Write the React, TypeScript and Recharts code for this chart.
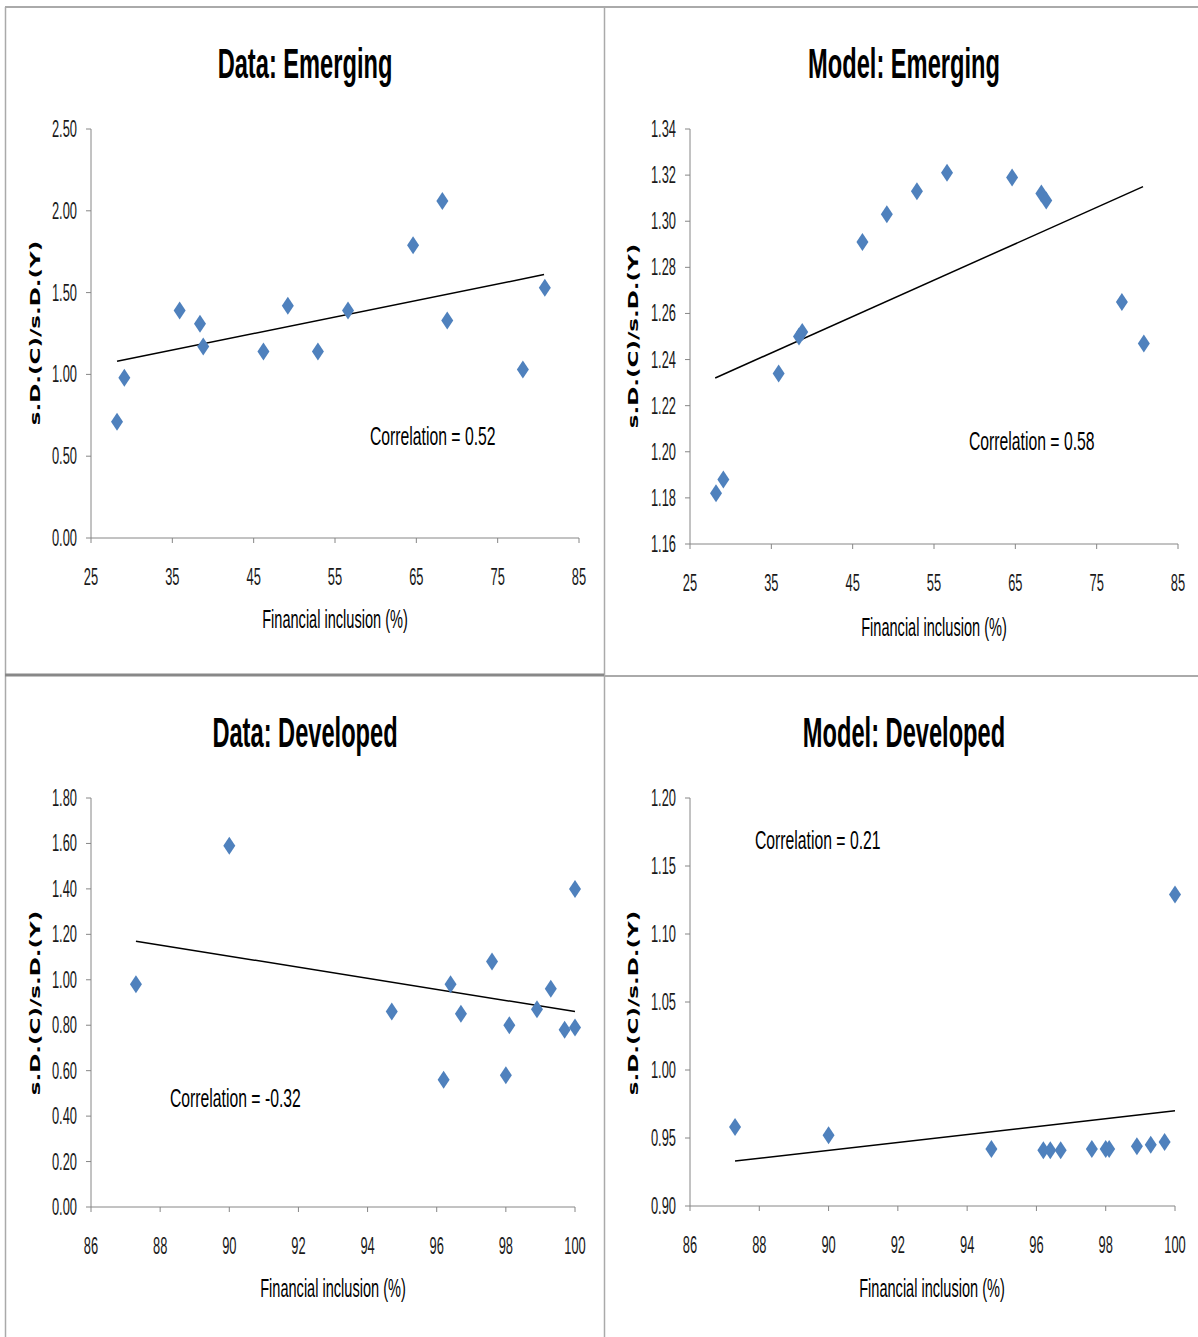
import React from "react";
import { ScatterChart, Scatter, XAxis, YAxis, ReferenceLine } from "recharts";

// x: financial inclusion (%), y: s.D.(C)/s.D.(Y)
const emergingInclusion = [28.2, 29.1, 35.9, 38.4, 38.8, 46.2, 49.2, 52.9, 56.6, 64.6, 68.2, 68.8, 78.1, 80.8];
const dataEmergingRatio = [0.71, 0.98, 1.39, 1.31, 1.17, 1.14, 1.42, 1.14, 1.39, 1.79, 2.06, 1.33, 1.03, 1.53];
const modelEmergingRatio = [1.182, 1.188, 1.234, 1.25, 1.252, 1.291, 1.303, 1.313, 1.321, 1.319, 1.312, 1.309, 1.265, 1.247];

const developedInclusion = [87.3, 90.0, 94.7, 96.2, 96.4, 96.7, 97.6, 98.0, 98.1, 98.9, 99.3, 99.7, 100.0, 100.0];
const dataDevelopedRatio = [0.98, 1.59, 0.86, 0.56, 0.98, 0.85, 1.08, 0.58, 0.8, 0.87, 0.96, 0.78, 0.79, 1.4];
const modelDevelopedInclusion = [87.3, 90.0, 94.7, 96.2, 96.4, 96.7, 97.6, 98.0, 98.1, 98.9, 99.3, 99.7, 100.0];
const modelDevelopedRatio = [0.958, 0.952, 0.942, 0.941, 0.941, 0.941, 0.942, 0.942, 0.942, 0.944, 0.945, 0.947, 1.129];

// fitted line end points [x, y]
const dataEmergingTrend = [[28.2, 1.08], [80.7, 1.61]];
const modelEmergingTrend = [[28.1, 1.232], [80.7, 1.315]];
const dataDevelopedTrend = [[87.3, 1.17], [100, 0.86]];
const modelDevelopedTrend = [[87.3, 0.933], [100, 0.97]];

const emergingTicksX = [25, 35, 45, 55, 65, 75, 85];
const developedTicksX = [86, 88, 90, 92, 94, 96, 98, 100];
const dataEmergingTicksY = [0, 0.5, 1, 1.5, 2, 2.5];
const modelEmergingTicksY = [1.16, 1.18, 1.2, 1.22, 1.24, 1.26, 1.28, 1.3, 1.32, 1.34];
const dataDevelopedTicksY = [0, 0.2, 0.4, 0.6, 0.8, 1, 1.2, 1.4, 1.6, 1.8];
const modelDevelopedTicksY = [0.9, 0.95, 1, 1.05, 1.1, 1.15, 1.2];

const FONT = "'Liberation Sans Narrow', 'Liberation Sans', Arial, sans-serif";
const AXIS = "#868686";
const BLUE = "#4F81BD";

const zip = (xs: number[], ys: number[]) => xs.map((x, i) => ({ x, y: ys[i] }));

function Diamond(props: any) {
  const { cx, cy } = props;
  if (cx == null || cy == null) return null;
  return <polygon points={`${cx},${cy - 9} ${cx + 6},${cy} ${cx},${cy + 9} ${cx - 6},${cy}`} fill={BLUE} />;
}

function YTick(props: any) {
  const { x, y, payload } = props;
  return (
    <text transform={`translate(${x},${y}) scale(0.56,1)`} textAnchor="end" dy={8} fontFamily={FONT} fontSize={23} fill="#1a1a1a">
      {Number(payload.value).toFixed(2)}
    </text>
  );
}

function XTick(props: any) {
  const { x, y, payload } = props;
  return (
    <text transform={`translate(${x},${y}) scale(0.56,1)`} textAnchor="middle" dy={40} fontFamily={FONT} fontSize={23} fill="#1a1a1a">
      {payload.value}
    </text>
  );
}

type PanelProps = {
  box: { x: number; y: number; w: number; h: number };
  plot: { l: number; t: number; r: number; b: number };
  xs: number[];
  ys: number[];
  xTicks: number[];
  yTicks: number[];
  trend: number[][];
};

function Panel({ box, plot, xs, ys, xTicks, yTicks, trend }: PanelProps) {
  const yW = 60;
  const xH = 40;
  const margin = {
    left: plot.l - box.x - yW,
    top: plot.t - box.y,
    right: box.x + box.w - plot.r,
    bottom: box.y + box.h - plot.b - xH,
  };
  return (
    <div style={{ position: "absolute", left: box.x, top: box.y }}>
      <ScatterChart width={box.w} height={box.h} margin={margin}>
        <XAxis
          type="number"
          dataKey="x"
          domain={[xTicks[0], xTicks[xTicks.length - 1]]}
          ticks={xTicks}
          interval={0}
          height={xH}
          tickSize={5}
          tickMargin={2}
          stroke={AXIS}
          tick={<XTick />}
        />
        <YAxis
          type="number"
          dataKey="y"
          domain={[yTicks[0], yTicks[yTicks.length - 1]]}
          ticks={yTicks}
          interval={0}
          width={yW}
          tickSize={5}
          tickMargin={9}
          stroke={AXIS}
          tick={<YTick />}
        />
        <ReferenceLine
          segment={[{ x: trend[0][0], y: trend[0][1] }, { x: trend[1][0], y: trend[1][1] }]}
          stroke="#000"
          strokeWidth={1.5}
        />
        <Scatter data={zip(xs, ys)} shape={<Diamond />} isAnimationActive={false} />
      </ScatterChart>
    </div>
  );
}

function SText({ x, y, text, size, sx, bold, anchor }: any) {
  return (
    <text
      transform={`translate(${x},${y}) scale(${sx},1)`}
      textAnchor={anchor || "middle"}
      fontFamily={FONT}
      fontSize={size}
      fontWeight={bold ? "bold" : "normal"}
      fill="#000"
    >
      {text}
    </text>
  );
}

function YLabel({ x, y }: { x: number; y: number }) {
  return (
    <text
      transform={`translate(${x},${y}) scale(0.65,1) rotate(-90)`}
      textAnchor="middle"
      dominantBaseline="central"
      fontFamily="'DejaVu Sans', sans-serif"
      fontWeight="bold"
      fontSize={23}
      fill="#000"
    >
      s.D.(C)/s.D.(Y)
    </text>
  );
}

export default function App() {
  return (
    <div style={{ position: "absolute", left: 0, top: 0, width: 1198, height: 1337, background: "#fff", overflow: "hidden" }}>
      <Panel
        box={{ x: 6, y: 8, w: 598, h: 666 }}
        plot={{ l: 91, t: 129, r: 579, b: 538 }}
        xs={emergingInclusion}
        ys={dataEmergingRatio}
        xTicks={emergingTicksX}
        yTicks={dataEmergingTicksY}
        trend={dataEmergingTrend}
      />
      <Panel
        box={{ x: 605, y: 8, w: 593, h: 666 }}
        plot={{ l: 690, t: 129, r: 1178, b: 544 }}
        xs={emergingInclusion}
        ys={modelEmergingRatio}
        xTicks={emergingTicksX}
        yTicks={modelEmergingTicksY}
        trend={modelEmergingTrend}
      />
      <Panel
        box={{ x: 6, y: 677, w: 598, h: 660 }}
        plot={{ l: 91, t: 798, r: 575, b: 1207 }}
        xs={developedInclusion}
        ys={dataDevelopedRatio}
        xTicks={developedTicksX}
        yTicks={dataDevelopedTicksY}
        trend={dataDevelopedTrend}
      />
      <Panel
        box={{ x: 605, y: 677, w: 593, h: 660 }}
        plot={{ l: 690, t: 798, r: 1175, b: 1206 }}
        xs={modelDevelopedInclusion}
        ys={modelDevelopedRatio}
        xTicks={developedTicksX}
        yTicks={modelDevelopedTicksY}
        trend={modelDevelopedTrend}
      />

      <svg width={1198} height={1337} style={{ position: "absolute", left: 0, top: 0, pointerEvents: "none" }}>
        {/* frame */}
        <line x1={5} y1={7} x2={1198} y2={7} stroke="#aaa" strokeWidth={2} />
        <line x1={5.5} y1={7} x2={5.5} y2={1337} stroke="#aaa" strokeWidth={1.5} />
        <line x1={604.5} y1={7} x2={604.5} y2={1337} stroke="#aaa" strokeWidth={1.5} />
        <line x1={5} y1={675} x2={604} y2={675} stroke="#888" strokeWidth={3} />
        <line x1={604} y1={676} x2={1198} y2={676} stroke="#aaa" strokeWidth={2} />

        {/* titles */}
        <SText x={305} y={78} text="Data: Emerging" size={43} sx={0.55} bold />
        <SText x={904} y={78} text="Model: Emerging" size={43} sx={0.55} bold />
        <SText x={305} y={747} text="Data: Developed" size={43} sx={0.55} bold />
        <SText x={904} y={747} text="Model: Developed" size={43} sx={0.55} bold />

        {/* x axis titles */}
        <SText x={335} y={628} text="Financial inclusion (%)" size={26} sx={0.56} />
        <SText x={934} y={636} text="Financial inclusion (%)" size={26} sx={0.56} />
        <SText x={333} y={1297} text="Financial inclusion (%)" size={26} sx={0.56} />
        <SText x={932} y={1297} text="Financial inclusion (%)" size={26} sx={0.56} />

        {/* y axis titles */}
        <YLabel x={35} y={333} />
        <YLabel x={633} y={336} />
        <YLabel x={35} y={1003} />
        <YLabel x={633} y={1003} />

        {/* correlations */}
        <SText x={370} y={445} text="Correlation = 0.52" size={25} sx={0.63} anchor="start" />
        <SText x={969} y={450} text="Correlation = 0.58" size={25} sx={0.63} anchor="start" />
        <SText x={170} y={1107} text="Correlation = -0.32" size={25} sx={0.63} anchor="start" />
        <SText x={755} y={849} text="Correlation = 0.21" size={25} sx={0.63} anchor="start" />
      </svg>
    </div>
  );
}
